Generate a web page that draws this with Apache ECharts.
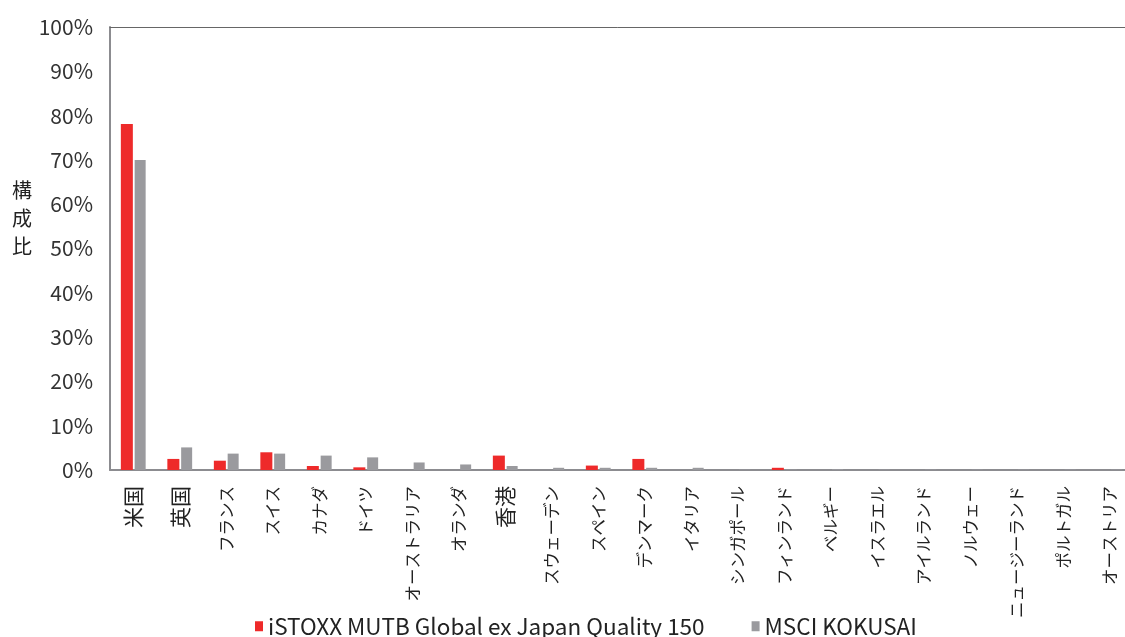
<!DOCTYPE html>
<html>
<head>
<meta charset="utf-8">
<script src="https://cdn.jsdelivr.net/npm/echarts@6/dist/echarts.min.js"></script>
<style>
  html, body { margin: 0; padding: 0; background: #fff; }
  #main { width: 1125px; height: 637px; }
</style>
</head>
<body>
<div id="main"></div>
<script>
var chartDom = document.getElementById('main');
var myChart = echarts.init(chartDom);
var option;

// Countries
const countries = [
  '米国', '英国', 'フランス', 'スイス', 'カナダ', 'ドイツ', 'オーストラリア', 'オランダ',
  '香港', 'スウェーデン', 'スペイン', 'デンマーク', 'イタリア', 'シンガポール', 'フィンランド',
  'ベルギー', 'イスラエル', 'アイルランド', 'ノルウェー', 'ニュージーランド', 'ポルトガル', 'オーストリア'
];
// Composition ratio (%)
const istoxx = [78.1, 2.5, 2.1, 4.0, 0.9, 0.6, 0, 0, 3.25, 0, 1.0, 2.5, 0, 0, 0.5, 0, 0, 0, 0, 0, 0, 0];
const kokusai = [70.0, 5.1, 3.7, 3.7, 3.25, 2.85, 1.7, 1.25, 0.9, 0.5, 0.5, 0.5, 0.5, 0.1, 0.1, 0.2, 0.1, 0.1, 0.1, 0.1, 0.1, 0.1];
const seriesNames = ['iSTOXX MUTB Global ex Japan Quality 150', 'MSCI KOKUSAI'];

const font = '"Noto Sans CJK JP", "Noto Sans", sans-serif';

option = {
  animation: false,
  textStyle: { fontFamily: font },
  // y axis name, written vertically
  title: {
    text: '構\n成\n比',
    left: 12,
    top: 176,
    padding: 0,
    textStyle: { fontSize: 20, fontWeight: 'normal', color: '#222', lineHeight: 28, fontFamily: font }
  },
  grid: { left: 110, top: 27, right: -8, bottom: 167, outerBoundsMode: 'none' },
  legend: {
    top: 610,
    left: 250,
    itemWidth: 8,
    itemHeight: 10,
    itemGap: 47,
    textStyle: { fontSize: 22.5, color: '#222', fontFamily: font },
    data: [
      { name: seriesNames[0], icon: 'rect' },
      { name: seriesNames[1], icon: 'rect' }
    ]
  },
  xAxis: [
    {
      type: 'category',
      data: countries,
      axisLine: { lineStyle: { color: '#8c8c90', width: 2 } },
      axisTick: { show: false },
      axisLabel: {
        rotate: 90,
        interval: 0,
        fontSize: 16.5,
        color: '#222',
        margin: 16,
        // kanji names are drawn larger than katakana ones
        formatter: function (v) {
          return /[\u4e00-\u9fff]/.test(v) ? '{k|' + v + '}' : v;
        },
        rich: {
          k: { fontSize: 21, color: '#222', fontFamily: font }
        }
      }
    },
    {
      type: 'category',
      position: 'top',
      data: countries,
      axisLine: { lineStyle: { color: '#666', width: 1 } },
      axisTick: { show: false },
      axisLabel: { show: false }
    }
  ],
  yAxis: {
    type: 'value',
    min: 0,
    max: 100,
    interval: 10,
    axisLine: { show: true, lineStyle: { color: '#8c8c90', width: 2 } },
    axisTick: { show: false },
    splitLine: { show: false },
    axisLabel: {
      formatter: '{value}%',
      fontSize: 21,
      color: '#333',
      margin: 17
    }
  },
  series: [
    {
      name: seriesNames[0],
      type: 'bar',
      data: istoxx,
      barWidth: 12,
      barGap: '15%',
      itemStyle: { color: '#ee2a2a' }
    },
    {
      name: seriesNames[1],
      type: 'bar',
      data: kokusai,
      barWidth: 11,
      itemStyle: { color: '#9a9a9e' }
    }
  ]
};

option && myChart.setOption(option);
</script>
</body>
</html>
